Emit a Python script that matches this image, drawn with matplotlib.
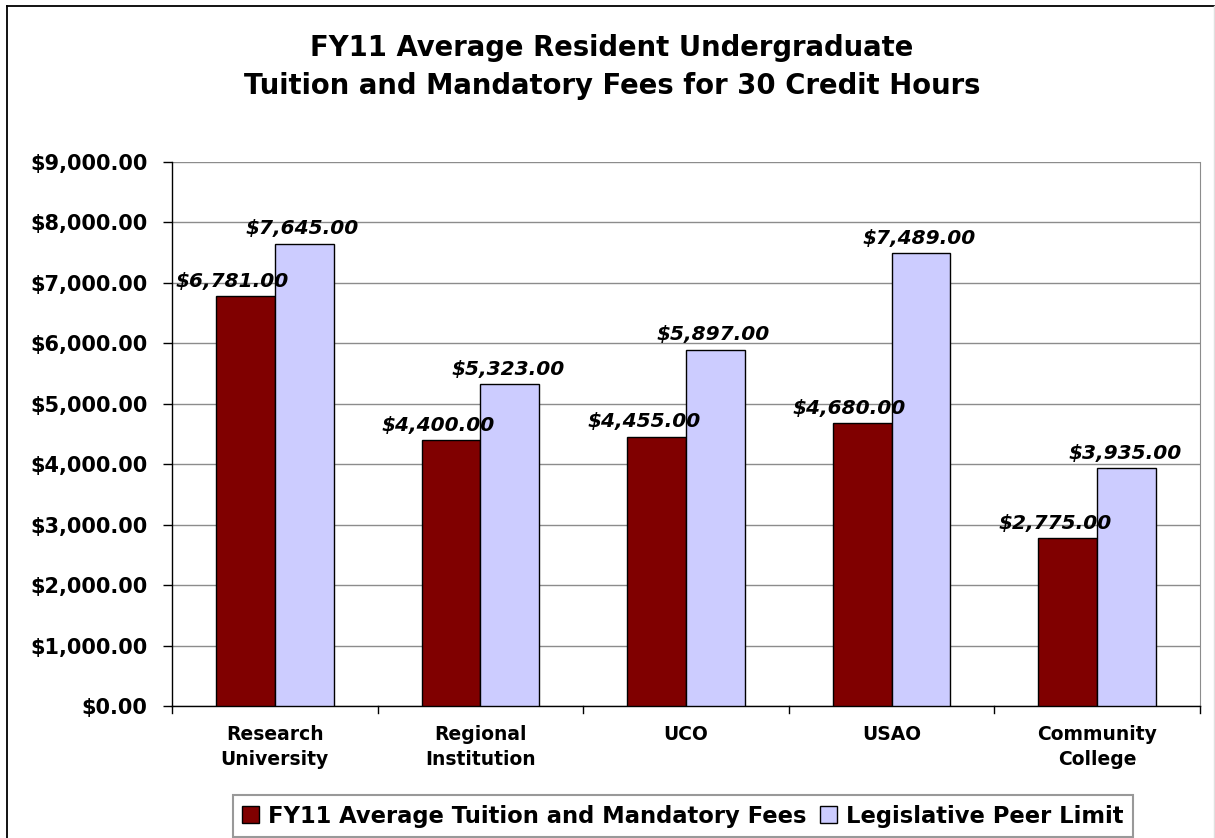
import numpy as np
import matplotlib
matplotlib.use('Agg')
from matplotlib import pyplot as plt
from matplotlib.lines import Line2D
from matplotlib.patches import Patch

categories = ['Research\nUniversity', 'Regional\nInstitution', 'UCO', 'USAO', 'Community\nCollege']
avg_fees = [6781.00, 4400.00, 4455.00, 4680.00, 2775.00]
peer_limit = [7645.00, 5323.00, 5897.00, 7489.00, 3935.00]
series_names = ['FY11 Average Tuition and Mandatory Fees', 'Legislative Peer Limit']

dark_red = '#800000'
lavender = '#ccccff'

plt.rcParams['font.family'] = ['DejaVu Sans']
plt.rcParams['font.weight'] = 'bold'


def money(v):
    return '${:,.2f}'.format(v)


def main():
    fig = plt.figure(figsize=(12.15, 8.38), dpi=100)
    ax = fig.add_axes([172 / 1215, 1 - 706 / 838, (1200 - 172) / 1215, (706 - 162) / 838])

    # outer chart frame (top and left visible, right edge faint)
    fig.add_artist(Line2D([7 / 1215, 7 / 1215], [0, 1 - 6 / 838], transform=fig.transFigure,
                          color='black', lw=1.3))
    fig.add_artist(Line2D([7 / 1215, 1], [1 - 6 / 838, 1 - 6 / 838], transform=fig.transFigure,
                          color='black', lw=1.3))
    fig.add_artist(Line2D([1213.5 / 1215, 1213.5 / 1215], [0, 1 - 6 / 838], transform=fig.transFigure,
                          color='#e0e0e0', lw=1))

    x = np.arange(len(categories))
    w = 0.286
    ax.bar(x - w / 2, avg_fees, w, color=dark_red, edgecolor='black', linewidth=1, zorder=3)
    ax.bar(x + w / 2, peer_limit, w, color=lavender, edgecolor='black', linewidth=1, zorder=3)

    for xi, v in zip(x - w / 2, avg_fees):
        ax.annotate(money(v), (xi, v), xytext=(-13, 15), textcoords='offset pixels', ha='center',
                    va='center', fontsize=14.5, style='italic', fontweight='bold', zorder=4)
    for xi, v in zip(x + w / 2, peer_limit):
        ax.annotate(money(v), (xi, v), xytext=(-2, 15), textcoords='offset pixels', ha='center',
                    va='center', fontsize=14.5, style='italic', fontweight='bold', zorder=4)

    ax.set_xlim(-0.5, len(categories) - 0.5)
    ax.set_ylim(0, 9000)
    ax.set_yticks(np.arange(0, 9001, 1000))
    ax.set_yticklabels([money(v) for v in np.arange(0, 9001, 1000)], fontsize=15, fontweight='bold')
    ax.set_xticks(x)
    ax.set_xticklabels(categories, fontsize=13.5, fontweight='bold', linespacing=1.38)
    ax.tick_params(axis='x', length=0, pad=14)
    ax.tick_params(axis='y', length=6.5, width=1, pad=11)
    # boundary ticks between categories
    for b in np.arange(-0.5, len(categories), 1.0):
        ax.plot([b, b], [0, -0.012], transform=ax.get_xaxis_transform(), color='black', lw=1,
                clip_on=False)

    ax.grid(axis='y', color='#8c8c8c', lw=1, zorder=0)
    ax.spines['top'].set_visible(False)
    ax.spines['right'].set_color('#8c8c8c')
    ax.spines['left'].set_linewidth(1)
    ax.spines['bottom'].set_linewidth(1)

    fig.text(612 / 1215, 1 - 48 / 838, 'FY11 Average Resident Undergraduate', ha='center', va='center',
             fontsize=19.8, fontweight='bold')
    fig.text(612 / 1215, 1 - 86 / 838, 'Tuition and Mandatory Fees for 30 Credit Hours', ha='center',
             va='center', fontsize=19.8, fontweight='bold')

    handles = [Patch(facecolor=dark_red, edgecolor='black'), Patch(facecolor=lavender, edgecolor='black')]
    leg = fig.legend(handles, series_names, loc='center', bbox_to_anchor=(683 / 1215, 1 - 816 / 838),
                     ncol=2, fontsize=16.3, frameon=True, fancybox=False, handlelength=0.75,
                     handleheight=0.75, handletextpad=0.4, columnspacing=0.6, borderpad=0.4)
    leg.get_frame().set_edgecolor('#808080')
    leg.get_frame().set_linewidth(1.5)

    fig.savefig('out.png', dpi=100)


if __name__ == '__main__':
    main()
